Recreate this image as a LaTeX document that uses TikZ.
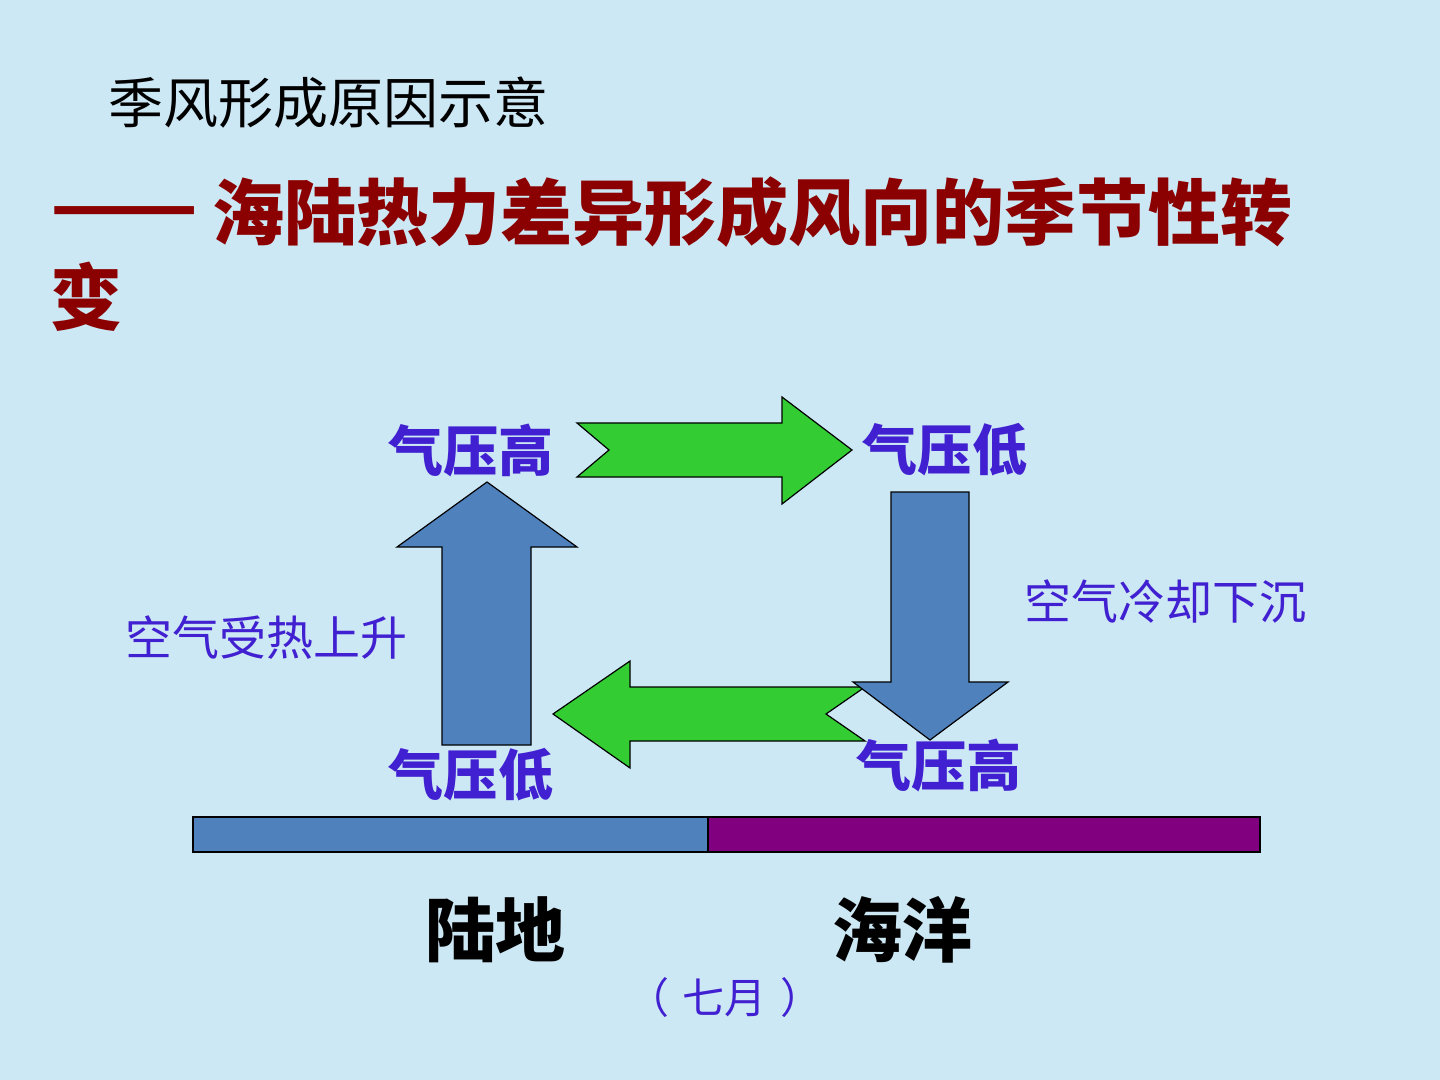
\documentclass[tikz,border=0pt]{standalone}
\usepackage{graphicx}
\usepackage{fontspec}
\newfontfamily\cjk{Noto Sans CJK SC}
\definecolor{bgblue}{RGB}{205,232,245}
\definecolor{arrowblue}{RGB}{79,129,189}
\definecolor{arrowgreen}{RGB}{51,204,51}
\definecolor{seapurple}{RGB}{128,0,128}
\definecolor{lblcol}{RGB}{64,32,208}
\definecolor{titlered}{RGB}{139,0,0}
\tikzset{
  shapeline/.style={draw=black, line width=0.6pt, line join=miter},
  bluearrow/.style={shapeline, fill=arrowblue},
  greenarrow/.style={shapeline, fill=arrowgreen},
  txt/.style={inner sep=0pt, outer sep=0pt, anchor=west, font=\cjk},
  lbl/.style={txt, text=lblcol, font=\cjk\bfseries\fontsize{27.5}{30}\selectfont},
  sidelbl/.style={txt, text=lblcol, font=\cjk\fontsize{23.5}{26}\selectfont},
  subtitle/.style={txt, text=titlered, font=\cjk\bfseries\fontsize{36}{38}\selectfont},
}
\begin{document}
\begin{tikzpicture}[x=0.5pt,y=-0.5pt]
\useasboundingbox (0,0) rectangle (1440,1080);
\fill[bgblue] (0,0) rectangle (1440,1080);

% titles
\node[txt, font=\cjk\fontsize{27.5}{30}\selectfont] (title) at (108,103) {季风形成原因示意};
\node[subtitle] (dash) at (50,219) {\scalebox{1.2}[1]{——}};
\node[subtitle] (sub1) at (212,212) {海陆热力差异形成风向的季节性转};
\node[subtitle] (sub2) at (50,297) {变};

% ground bar
\filldraw[shapeline, fill=arrowblue] (193,817) rectangle (708,852);
\filldraw[shapeline, fill=seapurple] (708,817) rectangle (1260,852);

% top green arrow (to the right)
\filldraw[greenarrow] (577,423) -- (782,423) -- (782,397) -- (852,450) -- (782,504) -- (782,477) -- (577,477) -- (609,450) -- cycle;

% bottom green arrow (to the left)
\filldraw[greenarrow] (865,687) -- (630,687) -- (630,661) -- (553,714) -- (630,768) -- (630,741) -- (865,741) -- (826,714) -- cycle;

% up blue arrow
\filldraw[bluearrow] (442,745) -- (442,547) -- (397,547) -- (487,482) -- (577,547) -- (531,547) -- (531,745) -- cycle;

% down blue arrow
\filldraw[bluearrow] (891,492) -- (969,492) -- (969,682) -- (1008,682) -- (930,740) -- (853,682) -- (891,682) -- cycle;

% labels
\node[lbl] (hiTL) at (388,450) {气压高};
\node[lbl] (loTR) at (862,450) {气压低};
\node[lbl] (loBL) at (388,775) {气压低};
\node[lbl] (hiBR) at (856,765) {气压高};
\node[sidelbl] (rise) at (125,638) {空气受热上升};
\node[sidelbl] (sink) at (1024,602) {空气冷却下沉};

\node[txt, font=\cjk\bfseries\fontsize{35}{38}\selectfont] (land) at (425,930) {陆地};
\node[txt, font=\cjk\bfseries\fontsize{35}{38}\selectfont] (sea) at (832,930) {海洋};
\node[txt, text=lblcol, font=\cjk\fontsize{21}{24}\selectfont] (month) at (627,998) {（\hspace{7pt}七月\hspace{7pt}）};
\end{tikzpicture}
\end{document}
